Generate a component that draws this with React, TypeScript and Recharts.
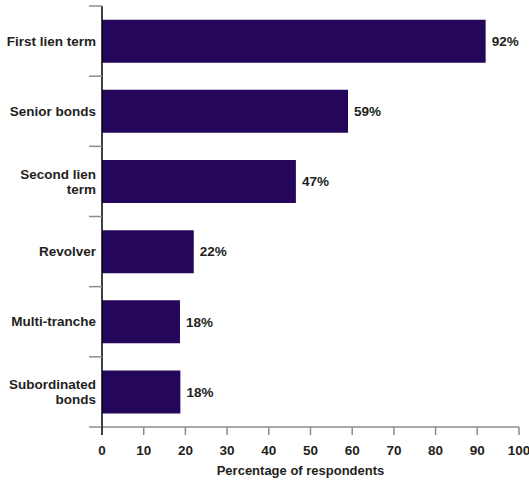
import React from "react";
import { BarChart, Bar, XAxis, YAxis, LabelList } from "recharts";

const categories = [
  "First lien term",
  "Senior bonds",
  "Second lien\nterm",
  "Revolver",
  "Multi-tranche",
  "Subordinated\nbonds",
];
const values = [92, 59, 46.5, 22, 18.7, 18.8];
const valueLabels = ["92%", "59%", "47%", "22%", "18%", "18%"];
const xTicks = [0, 10, 20, 30, 40, 50, 60, 70, 80, 90, 100];

const data = categories.map((name, i) => ({
  name,
  value: values[i],
  label: valueLabels[i],
}));

const W = 529;
const H = 480;
const MARGIN = { top: 6, right: 10, bottom: 0, left: 0 };
const X_AXIS_H = 53;
const BAND = (H - MARGIN.top - MARGIN.bottom - X_AXIS_H) / categories.length;

const FONT = "'Liberation Sans', Arial, Helvetica, sans-serif";
const FS = 13.5;
const TEXT = "#231f20";
const GRAY = "#8c8c8c";
const BAR = "#24065a";

function CategoryTick(props: any) {
  const { x, y, payload, index } = props;
  const lines = String(payload.value).split("\n");
  const axisX = x + 6;
  const lh = 15;
  const y0 = y - ((lines.length - 1) * lh) / 2;
  const last = index === categories.length - 1;
  return (
    <g>
      <line x1={axisX - 13} x2={axisX} y1={y - BAND / 2} y2={y - BAND / 2} stroke={GRAY} strokeWidth={1.5} />
      {last && (
        <>
          <line x1={axisX - 13} x2={axisX} y1={y + BAND / 2} y2={y + BAND / 2} stroke={GRAY} strokeWidth={1.5} />
          <line x1={axisX} x2={axisX} y1={y + BAND / 2} y2={y + BAND / 2 + 8} stroke="#000" strokeWidth={1.5} />
        </>
      )}
      <text textAnchor="end" fontFamily={FONT} fontSize={FS} fontWeight="bold" fill={TEXT}>
        {lines.map((l, i) => (
          <tspan key={i} x={x} y={y0 + i * lh} dy="0.35em">
            {l}
          </tspan>
        ))}
      </text>
    </g>
  );
}

function ValueTick(props: any) {
  const { x, y, payload } = props;
  const axisY = y - 18;
  return (
    <g>
      {payload.value !== 0 && (
        <line x1={x} x2={x} y1={axisY} y2={axisY + 8} stroke={GRAY} strokeWidth={1.5} />
      )}
      <text x={x} y={y} dy="0.71em" textAnchor="middle" fontFamily={FONT} fontSize={FS} fontWeight="bold" fill={TEXT}>
        {payload.value}
      </text>
    </g>
  );
}

export default function App() {
  return (
    <div style={{ position: "absolute", left: 0, top: 0, width: W, height: H, background: "#fff" }}>
      <BarChart width={W} height={H} data={data} layout="vertical" margin={MARGIN} barCategoryGap="19.5%">
        <XAxis
          type="number"
          domain={[0, 100]}
          ticks={xTicks}
          interval={0}
          height={X_AXIS_H}
          axisLine={{ stroke: GRAY, strokeWidth: 1.5 }}
          tickLine={false}
          tickSize={8}
          tickMargin={10}
          tick={<ValueTick />}
          label={{
            position: "insideBottom",
            content: ({ viewBox }: any) => (
              <text
                x={viewBox.x + viewBox.width / 2 - 10}
                y={viewBox.y + viewBox.height - 5}
                textAnchor="middle"
                fontFamily={FONT}
                fontSize={13}
                fontWeight="bold"
                fill={TEXT}
              >
                Percentage of respondents
              </text>
            ),
          }}
        />
        <YAxis
          type="category"
          dataKey="name"
          width={102}
          interval={0}
          axisLine={{ stroke: "#000", strokeWidth: 1.5 }}
          tickLine={false}
          tickSize={0}
          tickMargin={6}
          tick={<CategoryTick />}
        />
        <Bar dataKey="value" fill={BAR} isAnimationActive={false}>
          <LabelList
            dataKey="label"
            position="right"
            offset={6}
            fontFamily={FONT}
            fontSize={FS}
            fontWeight="bold"
            fill={TEXT}
          />
        </Bar>
      </BarChart>
    </div>
  );
}
